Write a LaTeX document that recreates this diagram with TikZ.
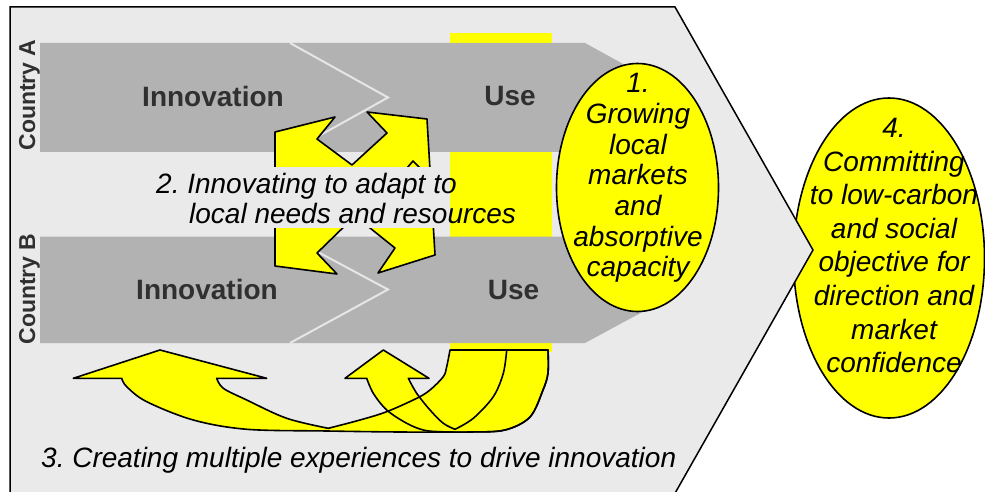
\documentclass[tikz,border=0pt]{standalone}
\usepackage{fontspec}
\setmainfont{Liberation Sans}
\usetikzlibrary{shapes.geometric}
\frenchspacing
\definecolor{bgray}{HTML}{EAEAEA}
\definecolor{bandgray}{HTML}{B2B2B2}
\definecolor{bandtext}{HTML}{303030}
\definecolor{zigline}{HTML}{E6E6E6}
\definecolor{yel}{HTML}{FFFF00}
\tikzset{
  outl/.style={draw=black, line width=1.6pt, line join=round},
  bandtxt/.style={font=\fontsize{28}{30}\selectfont\bfseries, text=bandtext, inner sep=0pt, anchor=base},
  ctry/.style={font=\fontsize{23}{26}\selectfont\bfseries, text=bandtext, inner sep=0pt, anchor=base, rotate=90},
  lbl/.style={font=\fontsize{28}{30}\selectfont\itshape, inner sep=0pt},
  ell/.style={ellipse, fill=yel, draw=black, line width=1.6pt, inner sep=0pt},
  bandshape/.style={fill=bandgray},
  zig/.style={draw=zigline, line width=2pt},
}
\def\bigarrow{(450,350) -- (548,350) -- plot[smooth, tension=0.55] coordinates {(548,350) (548,373) (543,390) (530,417) (505,430) (470,432) (400,432) (327,431) (247,429.3) (193.3,420) (146.7,401.7) (126.7,386.7) (121.7,378.3)} -- (73.3,378.3) -- (160,350) -- (266.7,378.3) -- (216.7,378.3) -- plot[smooth, tension=0.55] coordinates {(216.7,378.3) (223.3,388.3) (246.7,400) (286.7,418.3) (328.3,428.3)} -- plot[smooth, tension=0.55] coordinates {(328.3,428.3) (360,420) (386.7,411.7) (416.7,398.3) (430,390) (443.3,376.7) (446.7,366.7) (450,350)} -- cycle}
\def\medarrow{(506.7,350) -- (548,350) -- plot[smooth, tension=0.55] coordinates {(548,350) (548,373) (543,390) (530,417) (505,430) (470,432) (440,431.7) (423.3,430) (406.7,423.3) (386.7,410) (373.3,393.3) (366.7,378.3)} -- (345,378.3) -- (383.3,350) -- (429,378.3) -- (408.3,378.3) -- plot[smooth, tension=0.55] coordinates {(408.3,378.3) (416.7,393.3) (430,410) (443.3,423.3) (455,429.3)} -- plot[smooth, tension=0.55] coordinates {(455,429.3) (473.3,418.3) (493.3,396.7) (503.3,373.3) (506.7,350)} -- cycle}
\begin{document}
\begin{tikzpicture}[x=1pt,y=-1pt]
\useasboundingbox (0,0) rectangle (985,492);
% right ellipse (behind the chevron tip)
\node[ell, minimum width=191, minimum height=320] (e4) at (889,258) {};
% chevron background
\draw[fill=bgray, line width=1.5pt, line join=miter] (10,7) -- (675,7) -- (813,250) -- (674,495) -- (10,495) -- cycle;
% yellow column
\fill[yel] (450,33) rectangle (552,352);
% country bands
\path[bandshape] (40,43) -- (585,43) -- (684,97.5) -- (585,152) -- (40,152) -- cycle;
\path[bandshape] (40,236.5) -- (585,236.5) -- (684,289.5) -- (585,343) -- (40,343) -- cycle;
\draw[zig] (290,43) -- (388,97.5) -- (290,152);
\draw[zig] (289,236.5) -- (388,289.5) -- (290,343);
% band texts
\node[bandtxt] (innA) at (213,107) {Innovation};
\node[bandtxt] (useA) at (510,105.5) {Use};
\node[bandtxt] (innB) at (207,299) {Innovation};
\node[bandtxt] (useB) at (513.5,299) {Use};
\node[ctry] (ctA) at (35,95) {Country A};
\node[ctry] (ctB) at (35,289) {Country B};
% central double arrow
\draw[outl, fill=yel] (275,132) -- (335,117) -- (317,139) -- (352,165) -- (387,133) -- (367,112) -- (427,119) -- (435,255) -- (378,273) -- (395,248) -- (355,216) -- (317,253) -- (337,274) -- (275,266) -- cycle;
\draw[outl] (407,168) -- (413,161) -- (420,168);
% label 2 with its background
\fill[bgray] (150,167) rectangle (450,228);
\node[lbl, align=left, anchor=north west] (lab2) at (156,172.6) {2. Innovating to adapt to\\\hspace*{33pt}local needs and resources};
% bottom curved arrows
\fill[yel] \bigarrow;
\fill[yel] \medarrow;
\draw[outl] \bigarrow;
\draw[outl] \medarrow;
% label 3
\node[lbl, anchor=base west] (lab3) at (41,467) {3. Creating multiple experiences to drive innovation};
% ellipse 1
\node[ell, minimum width=162, minimum height=248] (e1) at (637.5,187.5) {};
\node[lbl, align=center, font=\fontsize{28}{30.7}\selectfont\itshape] (t1) at (638,178.1) {1.\\Growing\\local\\markets\\and\\absorptive\\capacity};
% ellipse 4 text
\node[lbl, align=center, font=\fontsize{28}{33.57}\selectfont\itshape] (t4) at (894,245.7) {4.\\Committing\\to low-carbon\\and social\\objective for\\direction and\\market\\confidence};
\end{tikzpicture}
\end{document}
